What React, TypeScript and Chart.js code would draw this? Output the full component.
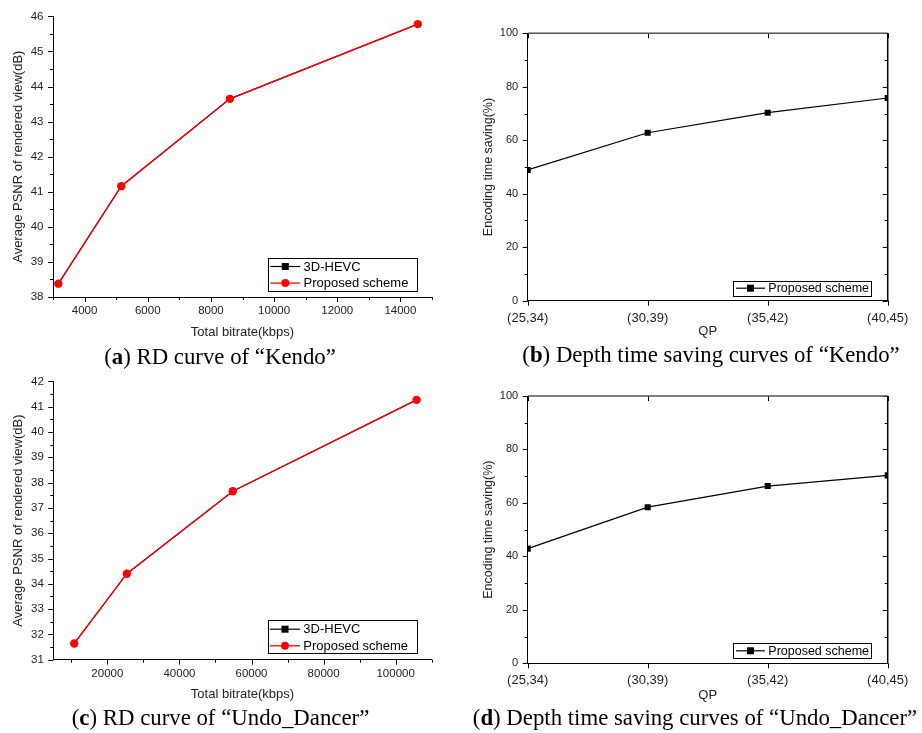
import React, { useEffect, useRef } from "react";
import { Chart, registerables } from "chart.js";

Chart.register(...registerables);

// ---------- data ----------
const kendoBitrate = [3170, 5160, 8600, 14550];
const kendoPsnrHevc = [38.38, 41.16, 43.65, 45.78];
const kendoPsnrProposed = [38.38, 41.16, 43.65, 45.78];

const dancerBitrate = [10800, 25400, 54800, 105800];
const dancerPsnrHevc = [31.64, 34.4, 37.66, 41.27];
const dancerPsnrProposed = [31.64, 34.4, 37.66, 41.27];

const qpLabels = ["(25,34)", "(30,39)", "(35,42)", "(40,45)"];
const kendoTimeSaving = [48.9, 62.8, 70.3, 75.8];
const dancerTimeSaving = [42.9, 58.4, 66.3, 70.3];

const kendoXTicks = [4000, 6000, 8000, 10000, 12000, 14000];
const kendoYTicks = [38, 39, 40, 41, 42, 43, 44, 45, 46];
const dancerXTicks = [20000, 40000, 60000, 80000, 100000];
const dancerYTicks = [31, 32, 33, 34, 35, 36, 37, 38, 39, 40, 41, 42];
const savingYTicks = [0, 20, 40, 60, 80, 100];

const FONT = "Arial, 'Liberation Sans', Helvetica, sans-serif";
const SERIF = "'Palatino Linotype', 'Book Antiqua', Palatino, 'Liberation Serif', serif";

Chart.defaults.font.family = FONT;

// ---------- plugins ----------
function minorValues(scale: any): number[] {
  const vals = scale.ticks.map((t: any) => t.value);
  if (vals.length < 2) return [];
  const step = vals[1] - vals[0];
  const out: number[] = [];
  const cands = [vals[0] - step / 2, ...vals.map((v: number) => v + step / 2)];
  for (const c of cands) {
    if (c >= scale.min - 1e-9 && c <= scale.max + 1e-9) out.push(c);
  }
  return out;
}

const frameTicksPlugin = {
  id: "frameTicks",
  afterDraw(chart: any, _args: any, opts: any) {
    if (!opts || !opts.enabled) return;
    const { ctx, chartArea } = chart;
    const { left, right, top, bottom } = chartArea;
    const xs = chart.scales.x;
    const ys = chart.scales.y;
    const maj = opts.majorLen ?? 5;
    const min = opts.minorLen ?? 3;
    const xMaj = xs.ticks.map((_t: any, i: number) => xs.getPixelForTick(i));
    const yMaj = ys.ticks.map((_t: any, i: number) => ys.getPixelForTick(i));
    const xMin = opts.xMinor ? minorValues(xs).map((v) => xs.getPixelForValue(v)) : [];
    const yMin = opts.yMinor ? minorValues(ys).map((v) => ys.getPixelForValue(v)) : [];
    const r = (v: number) => Math.round(v) + 0.5;
    ctx.save();
    ctx.strokeStyle = "#000";
    ctx.lineWidth = 1;
    ctx.beginPath();
    xMaj.forEach((p: number) => { ctx.moveTo(r(p), bottom); ctx.lineTo(r(p), bottom + maj); });
    xMin.forEach((p: number) => { ctx.moveTo(r(p), bottom); ctx.lineTo(r(p), bottom + min); });
    yMaj.forEach((p: number) => { ctx.moveTo(left, r(p)); ctx.lineTo(left - maj, r(p)); });
    yMin.forEach((p: number) => { ctx.moveTo(left, r(p)); ctx.lineTo(left - min, r(p)); });
    if (opts.box) {
      xMaj.forEach((p: number) => { ctx.moveTo(r(p), top); ctx.lineTo(r(p), top + maj); });
      yMaj.forEach((p: number) => { ctx.moveTo(right, r(p)); ctx.lineTo(right - maj, r(p)); });
      yMin.forEach((p: number) => { ctx.moveTo(right, r(p)); ctx.lineTo(right - min, r(p)); });
    }
    ctx.stroke();
    if (opts.box) {
      ctx.beginPath();
      ctx.strokeStyle = "#555";
      ctx.lineWidth = 1.5;
      ctx.moveTo(left, top);
      ctx.lineTo(right, top);
      ctx.stroke();
      ctx.beginPath();
      ctx.strokeStyle = "#000";
      ctx.lineWidth = 1.5;
      ctx.moveTo(right, top);
      ctx.lineTo(right, bottom);
      ctx.stroke();
    }
    ctx.restore();
  },
};

const boxLegendPlugin = {
  id: "boxLegend",
  afterDraw(chart: any, _args: any, opts: any) {
    if (!opts || !opts.enabled) return;
    const { ctx, chartArea } = chart;
    const x0 = chartArea.right - opts.offsetRight - opts.width;
    const y0 = chartArea.bottom - opts.offsetBottom - opts.height;
    ctx.save();
    ctx.fillStyle = "#fff";
    ctx.fillRect(x0, y0, opts.width, opts.height);
    ctx.strokeStyle = "#000";
    ctx.lineWidth = 1;
    ctx.strokeRect(Math.round(x0) + 0.5, Math.round(y0) + 0.5, Math.round(opts.width), Math.round(opts.height));
    chart.data.datasets.forEach((ds: any, i: number) => {
      const cy = y0 + opts.rowTop + i * opts.rowGap;
      ctx.strokeStyle = ds.borderColor;
      ctx.lineWidth = ds.borderWidth;
      ctx.beginPath();
      ctx.moveTo(x0 + opts.lineStart, cy);
      ctx.lineTo(x0 + opts.lineStart + opts.lineLen, cy);
      ctx.stroke();
      const mx = x0 + opts.lineStart + opts.lineLen / 2;
      ctx.fillStyle = ds.backgroundColor;
      if (ds.pointStyle === "rect") {
        const s = opts.markerSize;
        ctx.fillRect(mx - s / 2, cy - s / 2, s, s);
      } else {
        ctx.beginPath();
        ctx.arc(mx, cy, opts.markerSize / 2 + 0.5, 0, Math.PI * 2);
        ctx.fill();
      }
      ctx.fillStyle = "#000";
      ctx.font = `${opts.fontSize}px ${FONT}`;
      ctx.textBaseline = "middle";
      ctx.textAlign = "left";
      ctx.fillText(ds.label, x0 + opts.textX, cy + 0.5);
    });
    ctx.restore();
  },
};

// ---------- config builders ----------
function axisCommon(tickSize: number, pad: number) {
  return {
    grid: { display: false, drawTicks: false },
    border: { display: true, color: "#000", width: 1 },
    ticks: {
      font: { size: tickSize },
      color: "#222",
      padding: pad,
      maxRotation: 0,
      autoSkip: false,
      callback: function (this: any, value: any) {
        return this.type === "category" ? this.getLabelForValue(value) : String(value);
      },
    },
  };
}

function rdConfig(
  bitrate: number[], hevc: number[], proposed: number[],
  xMin: number, xMax: number, xTicks: number[],
  yMin: number, yMax: number, yTicks: number[],
  pad: { top: number; right: number }, yWidth: number, xHeight: number, xTitleBottom: number,
) {
  return {
    type: "line",
    data: {
      datasets: [
        {
          label: "3D-HEVC",
          data: bitrate.map((x, i) => ({ x, y: hevc[i] })),
          borderColor: "#000",
          backgroundColor: "#000",
          borderWidth: 1.2,
          pointStyle: "rect",
          pointRadius: 3.8,
          pointBorderWidth: 0,
          order: 2,
        },
        {
          label: "Proposed scheme",
          data: bitrate.map((x, i) => ({ x, y: proposed[i] })),
          borderColor: "#ff0000",
          backgroundColor: "#ff0000",
          borderWidth: 1.3,
          pointStyle: "circle",
          pointRadius: 4.2,
          pointBorderWidth: 0,
          order: 1,
        },
      ],
    },
    options: {
      responsive: false,
      animation: false,
      events: [],
      layout: { padding: { left: 0, top: pad.top, right: pad.right, bottom: 0 } },
      scales: {
        x: {
          type: "linear",
          min: xMin,
          max: xMax,
          ...axisCommon(11.5, 7),
          afterBuildTicks: (s: any) => { s.ticks = xTicks.map((value) => ({ value })); },
          afterFit: (s: any) => { s.height = xHeight; },
          title: { display: true, text: "Total bitrate(kbps)", font: { size: 13 }, color: "#222", padding: { top: 0, bottom: xTitleBottom } },
        },
        y: {
          type: "linear",
          min: yMin,
          max: yMax,
          ...axisCommon(11.5, 9.5),
          afterBuildTicks: (s: any) => { s.ticks = yTicks.map((value) => ({ value })); },
          afterFit: (s: any) => { s.width = yWidth; },
          title: { display: true, text: "Average PSNR of rendered view(dB)", font: { size: 13 }, color: "#222", padding: { top: 10.5, bottom: 0 } },
        },
      },
      plugins: {
        legend: { display: false },
        tooltip: { enabled: false },
        frameTicks: { enabled: true, xMinor: true, yMinor: true, majorLen: 5, minorLen: 3 },
        boxLegend: {
          enabled: true, offsetRight: 15, offsetBottom: 6.5, width: 149, height: 33,
          rowTop: 9, rowGap: 16.6, lineStart: 2.3, lineLen: 30, textX: 35.6, fontSize: 13, markerSize: 7,
        },
      },
    },
    plugins: [frameTicksPlugin, boxLegendPlugin],
  };
}

function savingConfig(values: number[], padTop: number, xHeight: number, xTitleBottom: number) {
  return {
    type: "line",
    data: {
      labels: qpLabels,
      datasets: [
        {
          label: "Proposed scheme",
          data: values,
          borderColor: "#000",
          backgroundColor: "#000",
          borderWidth: 1.2,
          pointStyle: "rect",
          pointRadius: 4.3,
          pointBorderWidth: 0,
          clip: 0,
        },
      ],
    },
    options: {
      responsive: false,
      animation: false,
      events: [],
      layout: { padding: { left: 0, top: padTop, right: 34.3, bottom: 0 } },
      scales: {
        x: {
          type: "category",
          offset: false,
          ...axisCommon(13, 9.5),
          afterFit: (s: any) => { s.height = xHeight; },
          title: { display: true, text: "QP", font: { size: 13 }, color: "#222", padding: { top: 0, bottom: xTitleBottom } },
        },
        y: {
          type: "linear",
          min: 0,
          max: 100,
          ...axisCommon(11, 9.5),
          afterBuildTicks: (s: any) => { s.ticks = savingYTicks.map((value) => ({ value })); },
          afterFit: (s: any) => { s.width = 67.7; },
          title: { display: true, text: "Encoding time saving(%)", font: { size: 12.5 }, color: "#222", padding: { top: 21, bottom: 0 } },
        },
      },
      plugins: {
        legend: { display: false },
        tooltip: { enabled: false },
        frameTicks: { enabled: true, xMinor: false, yMinor: true, box: true, majorLen: 5, minorLen: 3 },
        boxLegend: {
          enabled: true, offsetRight: 16, offsetBottom: 5, width: 138.4, height: 15,
          rowTop: 7.5, rowGap: 0, lineStart: 2.7, lineLen: 29, textX: 35, fontSize: 12.5, markerSize: 7,
        },
      },
    },
    plugins: [frameTicksPlugin, boxLegendPlugin],
  };
}

// ---------- components ----------
function ChartPanel({ config, left, top, width, height }: any) {
  const ref = useRef<HTMLCanvasElement | null>(null);
  useEffect(() => {
    if (!ref.current) return;
    const chart = new Chart(ref.current, config as any);
    return () => chart.destroy();
  }, [config]);
  return (
    <canvas
      ref={ref}
      width={width}
      height={height}
      style={{ position: "absolute", left, top, width, height, display: "block" }}
    />
  );
}

function Caption({ cx, cy, letter, text }: any) {
  return (
    <div
      style={{
        position: "absolute",
        left: cx - 300,
        top: cy - 14,
        width: 600,
        height: 28,
        lineHeight: "28px",
        textAlign: "center",
        fontFamily: SERIF,
        fontSize: 22.8,
        color: "#000",
        whiteSpace: "nowrap",
      }}
    >
      (<b>{letter}</b>) {text}
    </div>
  );
}

const cfgA = rdConfig(kendoBitrate, kendoPsnrHevc, kendoPsnrProposed, 3000, 15000, kendoXTicks, 38, 46, kendoYTicks,
  { top: 15, right: 28 }, 53, 48, 4.5);
const cfgC = rdConfig(dancerBitrate, dancerPsnrHevc, dancerPsnrProposed, 5000, 110000, dancerXTicks, 31, 42, dancerYTicks,
  { top: 13.3, right: 28.3 }, 53.3, 50.3, 8);
const cfgB = savingConfig(kendoTimeSaving, 33.3, 44.3, 5.5);
const cfgD = savingConfig(dancerTimeSaving, 31, 46.7, 7.2);

export default function App() {
  return (
    <div style={{ position: "absolute", left: 0, top: 0, width: 922, height: 733, background: "#fff", overflow: "hidden" }}>
      <ChartPanel config={cfgA} left={0} top={0} width={460} height={345} />
      <ChartPanel config={cfgB} left={460} top={0} width={462} height={345} />
      <ChartPanel config={cfgC} left={0} top={365} width={460} height={345} />
      <ChartPanel config={cfgD} left={460} top={365} width={462} height={345} />
      <Caption cx={220} cy={357} letter="a" text="RD curve of “Kendo”" />
      <Caption cx={711} cy={355} letter="b" text="Depth time saving curves of “Kendo”" />
      <Caption cx={220.5} cy={718} letter="c" text="RD curve of “Undo_Dancer”" />
      <Caption cx={695} cy={718} letter="d" text="Depth time saving curves of “Undo_Dancer”" />
    </div>
  );
}
